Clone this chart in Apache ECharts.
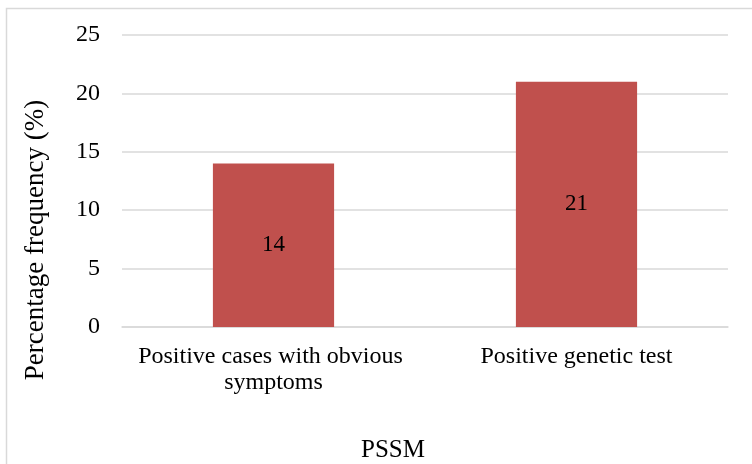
<!DOCTYPE html>
<html>
<head>
<meta charset="utf-8">
<script src="https://cdn.jsdelivr.net/npm/echarts@6/dist/echarts.min.js"></script>
<style>
  html, body { margin: 0; padding: 0; background: #ffffff; }
  #chart { width: 752px; height: 464px; }
</style>
</head>
<body>
<div id="chart"></div>
<script>
// Chart data
const categories = ['Positive cases with obvious symptoms', 'Positive genetic test'];
const frequencies = [14, 21];
const yTicks = [0, 5, 10, 15, 20, 25];
const yAxisTitle = 'Percentage frequency (%)';
const xAxisTitle = 'PSSM';

const serif = '"Liberation Serif", "Times New Roman", serif';
const chart = echarts.init(document.getElementById('chart'));

chart.setOption({
  animation: false,
  backgroundColor: '#ffffff',
  grid: { left: 122, right: 24, top: 35, bottom: 137, containLabel: false },
  xAxis: {
    type: 'category',
    data: categories,
    axisLine: { show: true, lineStyle: { color: '#d9d9d9', width: 1.5 } },
    axisTick: { show: false },
    axisLabel: {
      color: '#000', fontFamily: serif, fontSize: 24, margin: 17,
      lineHeight: 26, width: 290, overflow: 'break', interval: 0
    }
  },
  yAxis: {
    type: 'value',
    min: yTicks[0],
    max: yTicks[yTicks.length - 1],
    interval: 5,
    axisLine: { show: false },
    axisTick: { show: false },
    splitLine: { lineStyle: { color: '#d9d9d9', width: 1.5 } },
    axisLabel: { color: '#000', fontFamily: serif, fontSize: 24, margin: 22 }
  },
  series: [{
    type: 'bar',
    data: frequencies,
    barWidth: '40%',
    itemStyle: { color: '#c0504d' },
    label: {
      show: true, position: 'inside', color: '#000',
      fontFamily: serif, fontSize: 23
    }
  }],
  graphic: [
    {
      type: 'rect', left: 4, top: 6, z: -1,
      shape: { width: 800, height: 500 },
      style: { fill: 'none', stroke: '#d9d9d9', lineWidth: 1.5 }
    },
    {
      type: 'text', x: 36, y: 240, rotation: Math.PI / 2,
      style: {
        text: yAxisTitle, font: '27px ' + serif, fill: '#000',
        textAlign: 'center', textVerticalAlign: 'middle'
      }
    },
    {
      type: 'text', x: 393, y: 450,
      style: {
        text: xAxisTitle, font: '25px ' + serif, fill: '#000',
        textAlign: 'center', textVerticalAlign: 'middle'
      }
    }
  ]
});
</script>
</body>
</html>
